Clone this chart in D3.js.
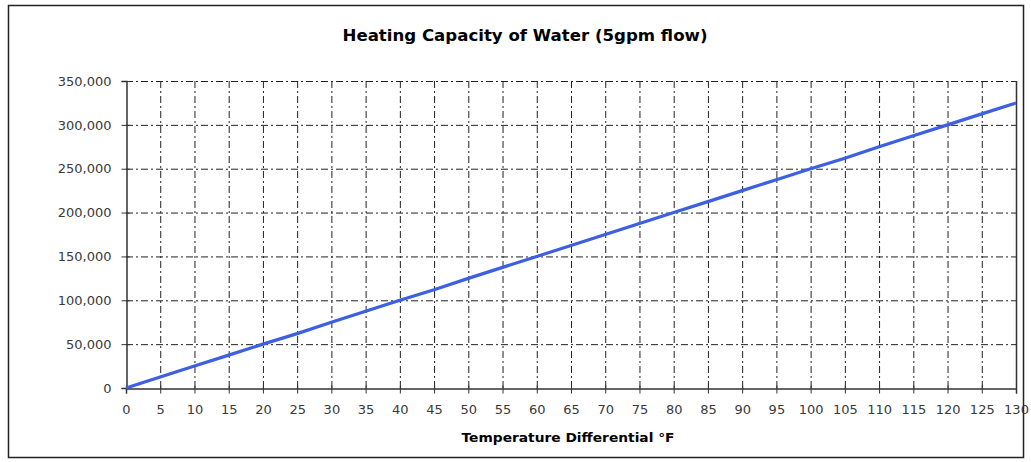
<!DOCTYPE html>
<html lang="en">
<head>
    <meta charset="UTF-8">
    <title>Heating Capacity of Water</title>
    <script src="https://d3js.org/d3.v7.min.js"></script>
    <style>
        body { margin: 0; background: #fff; }
        svg { display: block; font-family: "DejaVu Sans", Verdana, sans-serif; }
        .grid line { stroke: #222; stroke-width: 1px; stroke-dasharray: 7,3,2,3; }
    </style>
</head>
<body>
    <svg width="1031" height="462"></svg>
    <script>
        // temperature differential (°F) and heating capacity (Btu/h)
        const temps = [0, 5, 10, 15, 20, 25, 30, 35, 40, 45, 50, 55, 60, 65, 70, 75, 80, 85, 90, 95, 100, 105, 110, 115, 120, 125, 130];
        const btu = [0, 12500, 25000, 37500, 50000, 62000, 75000, 87500, 100000, 112000, 125000, 137500, 150000, 162500, 175000, 187500, 200000, 212500, 225000, 237500, 250000, 262000, 275000, 287500, 300000, 312500, 325000];
        const xTicks = d3.range(0, 131, 5);
        const yTicks = [0, 50000, 100000, 150000, 200000, 250000, 300000, 350000];

        const svg = d3.select("svg");
        const margin = { left: 126, right: 1016, top: 81, bottom: 388 };

        const x = d3.scaleLinear().domain([0, 130]).range([margin.left, margin.right]);
        const y = d3.scaleLinear().domain([0, 350000]).range([margin.bottom, margin.top]);

        // outer frame
        svg.append("rect")
            .attr("x", 8.5).attr("y", 5.5)
            .attr("width", 1015).attr("height", 452)
            .attr("fill", "none").attr("stroke", "#222").attr("stroke-width", 1.5);

        // grid
        const grid = svg.append("g").attr("class", "grid");
        grid.selectAll(".v").data(xTicks.slice(1, -1)).enter().append("line")
            .attr("x1", d => x(d) + 0.5).attr("x2", d => x(d) + 0.5)
            .attr("y1", margin.top).attr("y2", margin.bottom);
        grid.selectAll(".h").data(yTicks.slice(1)).enter().append("line")
            .attr("x1", margin.left).attr("x2", margin.right)
            .attr("y1", d => y(d) + 0.5).attr("y2", d => y(d) + 0.5);

        // right edge of plot
        svg.append("line")
            .attr("x1", margin.right + 0.5).attr("x2", margin.right + 0.5)
            .attr("y1", margin.top).attr("y2", margin.bottom)
            .attr("stroke", "#333").attr("stroke-width", 1.5);

        // axes
        const xAxis = svg.append("g")
            .attr("transform", `translate(0,${margin.bottom + 0.5})`)
            .call(d3.axisBottom(x).tickValues(xTicks).tickSize(5).tickPadding(11).tickFormat(d3.format("d")));
        xAxis.select(".domain").attr("stroke", "#333").attr("stroke-width", 1.5);
        xAxis.selectAll(".tick line").attr("stroke", "#333").attr("y1", -3);

        const yAxis = svg.append("g")
            .attr("transform", `translate(${margin.left + 0.5},0)`)
            .call(d3.axisLeft(y).tickValues(yTicks).tickSize(5).tickPadding(10).tickFormat(d3.format(",")));
        yAxis.select(".domain").attr("stroke", "#333").attr("stroke-width", 1.5);
        yAxis.selectAll(".tick line").attr("stroke", "#333").attr("x1", 3);

        svg.selectAll(".tick text")
            .attr("font-family", "'DejaVu Sans', Verdana, sans-serif")
            .attr("font-size", 13)
            .attr("fill", "#3a3a3a");

        // data line
        const line = d3.line().x((d, i) => x(temps[i])).y(d => y(d));
        svg.append("path")
            .datum(btu)
            .attr("d", line)
            .attr("fill", "none")
            .attr("stroke", "#3c5fe3")
            .attr("stroke-width", 3.2)
            .attr("stroke-linejoin", "round");

        // title
        svg.append("text")
            .attr("x", 525).attr("y", 41)
            .attr("text-anchor", "middle")
            .attr("font-size", "15.5px").attr("font-weight", "bold")
            .attr("textLength", 365).attr("lengthAdjust", "spacingAndGlyphs")
            .text("Heating Capacity of Water (5gpm flow)");

        // x axis title
        svg.append("text")
            .attr("x", 568).attr("y", 442)
            .attr("text-anchor", "middle")
            .attr("font-size", "12.5px").attr("font-weight", "bold")
            .attr("textLength", 213).attr("lengthAdjust", "spacingAndGlyphs")
            .text("Temperature Differential °F");

        // y axis title (mostly hidden, as in the original)
        svg.append("clipPath").attr("id", "yclip")
            .append("rect").attr("x", 18).attr("y", 200).attr("width", 10).attr("height", 100);
        svg.append("text")
            .attr("clip-path", "url(#yclip)")
            .attr("transform", "translate(27,245) rotate(-90)")
            .attr("text-anchor", "middle")
            .attr("font-size", "13px").attr("font-weight", "bold")
            .text("Btu/h");
    </script>
</body>
</html>
